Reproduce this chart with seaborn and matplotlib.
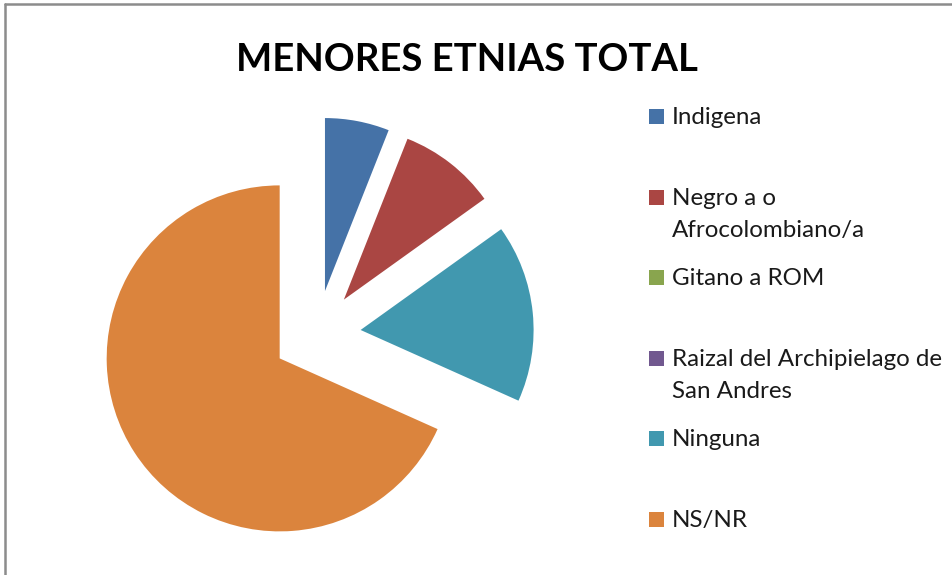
import matplotlib
matplotlib.use("Agg")
import matplotlib.pyplot as plt
from matplotlib.patches import Rectangle
from matplotlib.lines import Line2D
import seaborn as sns

# ---- data ----
categories = ["Indigena", "Negro a o\nAfrocolombiano/a", "Gitano a ROM",
              "Raizal del Archipielago de\nSan Andres", "Ninguna", "NS/NR"]
values = [6.0, 9.1, 0.0, 0.0, 16.6, 68.3]
colors = ["#4572A7", "#AA4643", "#89A54E", "#71588F", "#4198AF", "#DB843D"]
title = "MENORES ETNIAS TOTAL"

sns.set_theme(style="white")
plt.rcParams["font.family"] = ["Lato", "DejaVu Sans"]

W, H = 953, 575
fig = plt.figure(figsize=(W / 100, H / 100), dpi=100)
fig.patch.set_facecolor("white")

# pie axes (pixel geometry)
cx, cy = 316.7, 334.4          # centre in px from top-left
R = 173.0                      # radius in px
half = 230.0
ax = fig.add_axes([(cx - half) / W, (H - cy - half) / H, 2 * half / W, 2 * half / H])
ax.pie(values, colors=sns.color_palette(colors), startangle=90, counterclock=False,
       explode=[0.255] * len(values), radius=1.0,
       wedgeprops=dict(linewidth=0))
lim = half / R
ax.set_xlim(-lim, lim)
ax.set_ylim(-lim, lim)
ax.set_aspect("equal")
ax.axis("off")

# title
fig.text(467 / W, 1 - 70.7 / H, title, ha="center", va="baseline",
         fontsize=27.5, fontweight="bold", color="black")

# legend (Excel-style: marker aligned with the first line)
base0 = 124.0
step = 80.6
line_gap = 32.0
fs = 17.4
for i, (lab, col) in enumerate(zip(categories, colors)):
    b = base0 + i * step
    fig.patches.append(Rectangle((649 / W, 1 - b / H), 15 / W, 15 / H,
                                 transform=fig.transFigure, facecolor=col,
                                 edgecolor="none", figure=fig))
    for j, line in enumerate(lab.split("\n")):
        fig.text(672 / W, 1 - (b + j * line_gap) / H, line, ha="left",
                 va="baseline", fontsize=fs, color="#1a1a1a")

# chart border (top and left visible)
fig.lines.append(Line2D([5 / W, 1], [1 - 4 / H, 1 - 4 / H], transform=fig.transFigure,
                        color="#8c8c8c", linewidth=1.8))
fig.lines.append(Line2D([5 / W, 5 / W], [0, 1 - 4 / H], transform=fig.transFigure,
                        color="#8c8c8c", linewidth=1.8))

fig.savefig("out.png", dpi=100, facecolor="white")
